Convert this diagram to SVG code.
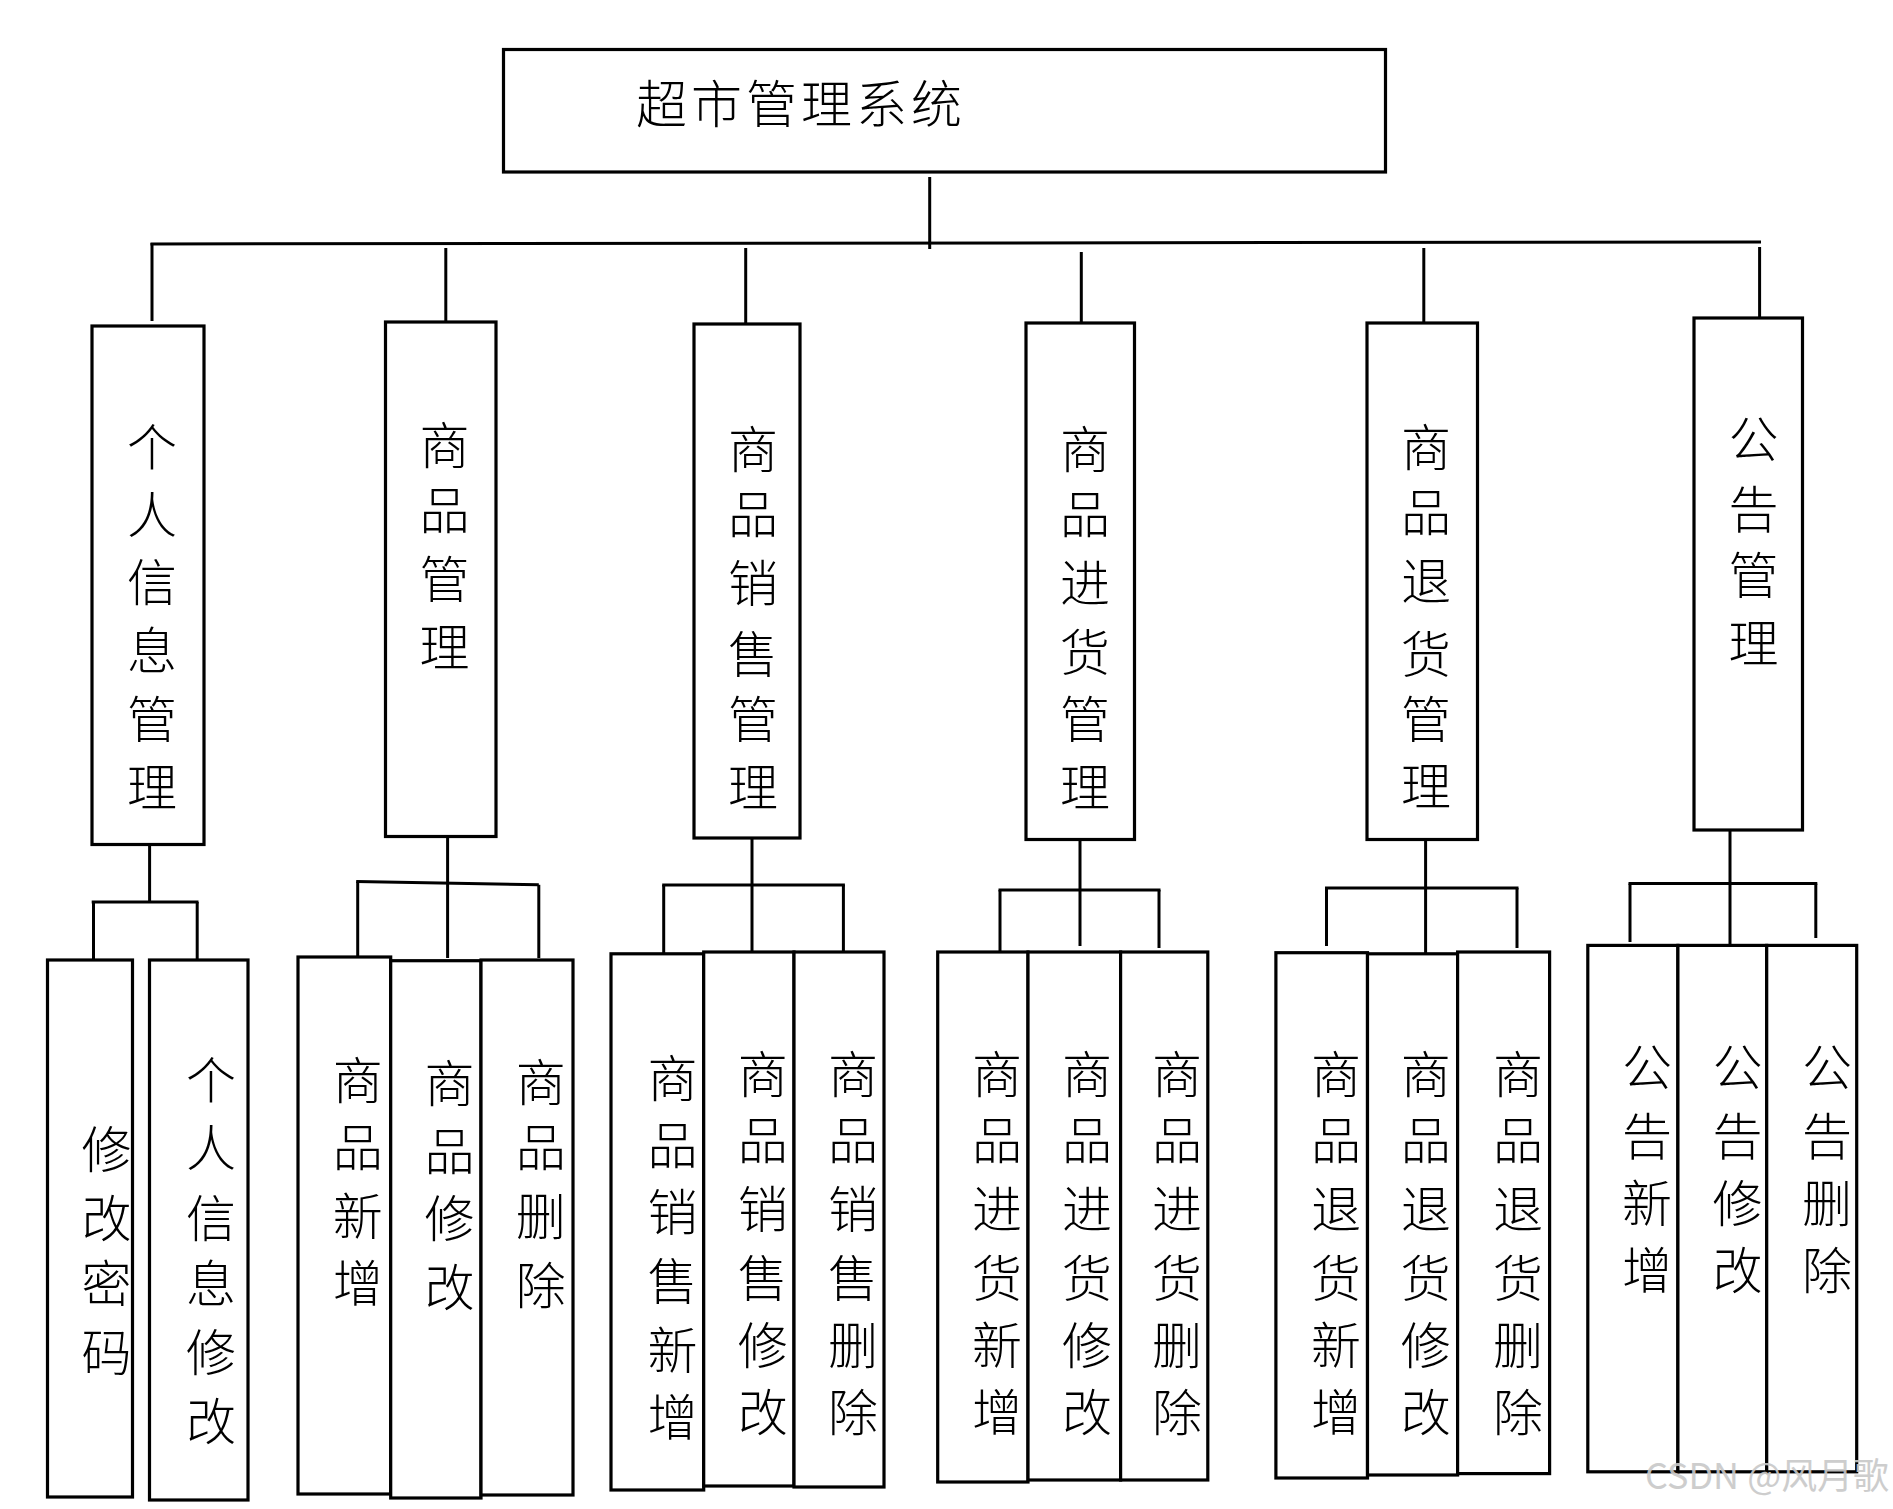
<svg xmlns="http://www.w3.org/2000/svg" width="1893" height="1509" viewBox="0 0 1893 1509">
<style>
.box{fill:#fff;stroke:#000;stroke-width:3.2}
.t{font-family:"Noto Sans CJK SC","Noto Sans CJK JP",sans-serif;font-size:50px;font-weight:300;fill:#000;text-anchor:middle}
.title{font-family:"Noto Sans CJK SC","Noto Sans CJK JP",sans-serif;font-size:51px;font-weight:300;fill:#000;letter-spacing:4px}
.c{stroke:#000;stroke-width:3;fill:none}
.wm{font-family:"Noto Sans CJK SC","Noto Sans CJK JP",sans-serif;font-size:36px;fill:#c8c8c8;opacity:0.9}
</style>
<rect width="1893" height="1509" fill="#fff"/>
<g id="connectors">
<line class="c" x1="929.7" y1="177" x2="929.7" y2="249"/>
<line class="c" x1="150.5" y1="244" x2="1761" y2="242"/>
<line class="c" x1="152" y1="243" x2="152" y2="321"/>
<line class="c" x1="445.8" y1="248" x2="445.8" y2="322"/>
<line class="c" x1="745.7" y1="248" x2="745.7" y2="324"/>
<line class="c" x1="1081.3" y1="252" x2="1081.3" y2="323"/>
<line class="c" x1="1423.8" y1="248" x2="1423.8" y2="323"/>
<line class="c" x1="1759.6" y1="247" x2="1759.6" y2="318"/>
<line class="c" x1="149.6" y1="845" x2="149.6" y2="902"/>
<line class="c" x1="91.7" y1="902" x2="198.5" y2="902"/>
<line class="c" x1="93.5" y1="902" x2="93.5" y2="959"/>
<line class="c" x1="197.2" y1="902" x2="197.2" y2="964"/>
<line class="c" x1="447.6" y1="837" x2="447.6" y2="958"/>
<line class="c" x1="356.2" y1="881.6" x2="538.8" y2="884.8"/>
<line class="c" x1="357.7" y1="881.6" x2="357.7" y2="956"/>
<line class="c" x1="538.8" y1="884.8" x2="538.8" y2="958"/>
<line class="c" x1="752" y1="838" x2="752" y2="951"/>
<line class="c" x1="662.2" y1="885" x2="844.9" y2="885"/>
<line class="c" x1="663.7" y1="885" x2="663.7" y2="953"/>
<line class="c" x1="843.4" y1="885" x2="843.4" y2="951"/>
<line class="c" x1="1080" y1="840" x2="1080" y2="946"/>
<line class="c" x1="998.5" y1="890" x2="1160.5" y2="890"/>
<line class="c" x1="1000" y1="890" x2="1000" y2="951"/>
<line class="c" x1="1159" y1="890" x2="1159" y2="948"/>
<line class="c" x1="1425.6" y1="840" x2="1425.6" y2="953"/>
<line class="c" x1="1325" y1="888" x2="1518.5" y2="888"/>
<line class="c" x1="1326.5" y1="888" x2="1326.5" y2="946"/>
<line class="c" x1="1517" y1="888" x2="1517" y2="948"/>
<line class="c" x1="1730" y1="830" x2="1730" y2="945"/>
<line class="c" x1="1628.5" y1="883.6" x2="1817.3" y2="883.6"/>
<line class="c" x1="1630" y1="883.6" x2="1630" y2="942"/>
<line class="c" x1="1815.8" y1="883.6" x2="1815.8" y2="938"/>
</g>
<g id="root">
<rect class="box" x="503.5" y="49.5" width="882" height="122.5"/>
<text class="title" x="636" y="123">超市管理系统</text>
</g>
<g id="n1">
<rect class="box" x="92" y="326" width="112" height="518.5"/>
<text class="t"><tspan x="152" y="466">个</tspan><tspan x="152" y="533">人</tspan><tspan x="152" y="601">信</tspan><tspan x="152" y="669">息</tspan><tspan x="152" y="738">管</tspan><tspan x="152" y="806">理</tspan></text>
</g>
<g id="n2">
<rect class="box" x="385.5" y="322" width="110.5" height="514.5"/>
<text class="t"><tspan x="444.6" y="464">商</tspan><tspan x="444.6" y="529">品</tspan><tspan x="444.6" y="598">管</tspan><tspan x="444.6" y="666">理</tspan></text>
</g>
<g id="n3">
<rect class="box" x="694" y="324" width="106" height="514"/>
<text class="t"><tspan x="753" y="468">商</tspan><tspan x="753" y="533">品</tspan><tspan x="753" y="602">销</tspan><tspan x="753" y="673">售</tspan><tspan x="753" y="738">管</tspan><tspan x="753" y="806">理</tspan></text>
</g>
<g id="n4">
<rect class="box" x="1026" y="323" width="108.5" height="516.5"/>
<text class="t"><tspan x="1085" y="468">商</tspan><tspan x="1085" y="533">品</tspan><tspan x="1085" y="602">进</tspan><tspan x="1085" y="671">货</tspan><tspan x="1085" y="738">管</tspan><tspan x="1085" y="806">理</tspan></text>
</g>
<g id="n5">
<rect class="box" x="1367" y="323" width="110.5" height="516.5"/>
<text class="t"><tspan x="1426" y="466">商</tspan><tspan x="1426" y="531">品</tspan><tspan x="1426" y="600">退</tspan><tspan x="1426" y="673">货</tspan><tspan x="1426" y="738">管</tspan><tspan x="1426" y="805">理</tspan></text>
</g>
<g id="n6">
<rect class="box" x="1694" y="318" width="108.5" height="512"/>
<text class="t"><tspan x="1753.5" y="458">公</tspan><tspan x="1753.5" y="528">告</tspan><tspan x="1753.5" y="594">管</tspan><tspan x="1753.5" y="662">理</tspan></text>
</g>
<g id="n1a">
<rect class="box" x="47.5" y="960" width="85" height="537"/>
<text class="t"><tspan x="106.5" y="1168">修</tspan><tspan x="106.5" y="1237">改</tspan><tspan x="106.5" y="1302">密</tspan><tspan x="106.5" y="1371">码</tspan></text>
</g>
<g id="n1b">
<rect class="box" x="149.5" y="960" width="98.5" height="540"/>
<text class="t"><tspan x="211" y="1099">个</tspan><tspan x="211" y="1166">人</tspan><tspan x="211" y="1237">信</tspan><tspan x="211" y="1302">息</tspan><tspan x="211" y="1371">修</tspan><tspan x="211" y="1440">改</tspan></text>
</g>
<g id="n2a">
<rect class="box" x="298" y="957" width="92.7" height="537"/>
<text class="t"><tspan x="357.8" y="1099">商</tspan><tspan x="357.8" y="1166">品</tspan><tspan x="357.8" y="1235">新</tspan><tspan x="357.8" y="1302">增</tspan></text>
</g>
<g id="n2b">
<rect class="box" x="390.7" y="960.7" width="90.3" height="537.3"/>
<text class="t"><tspan x="449.4" y="1102">商</tspan><tspan x="449.4" y="1169.5">品</tspan><tspan x="449.4" y="1237">修</tspan><tspan x="449.4" y="1306">改</tspan></text>
</g>
<g id="n2c">
<rect class="box" x="481" y="960" width="92" height="535"/>
<text class="t"><tspan x="540.7" y="1100.6">商</tspan><tspan x="540.7" y="1166">品</tspan><tspan x="540.7" y="1235">删</tspan><tspan x="540.7" y="1304">除</tspan></text>
</g>
<g id="n3a">
<rect class="box" x="611" y="953.8" width="92.7" height="536.2"/>
<text class="t"><tspan x="672.4" y="1097">商</tspan><tspan x="672.4" y="1164">品</tspan><tspan x="672.4" y="1231">销</tspan><tspan x="672.4" y="1300">售</tspan><tspan x="672.4" y="1369">新</tspan><tspan x="672.4" y="1436">增</tspan></text>
</g>
<g id="n3b">
<rect class="box" x="703.7" y="952" width="90.3" height="534"/>
<text class="t"><tspan x="762.8" y="1093">商</tspan><tspan x="762.8" y="1159">品</tspan><tspan x="762.8" y="1227.6">销</tspan><tspan x="762.8" y="1296.6">售</tspan><tspan x="762.8" y="1363.7">修</tspan><tspan x="762.8" y="1431">改</tspan></text>
</g>
<g id="n3c">
<rect class="box" x="794" y="952" width="90" height="535"/>
<text class="t"><tspan x="853" y="1093">商</tspan><tspan x="853" y="1159">品</tspan><tspan x="853" y="1227.6">销</tspan><tspan x="853" y="1296.6">售</tspan><tspan x="853" y="1363.7">删</tspan><tspan x="853" y="1431">除</tspan></text>
</g>
<g id="n4a">
<rect class="box" x="937.7" y="952" width="90.3" height="530"/>
<text class="t"><tspan x="997" y="1093">商</tspan><tspan x="997" y="1159">品</tspan><tspan x="997" y="1227.6">进</tspan><tspan x="997" y="1296.6">货</tspan><tspan x="997" y="1363.7">新</tspan><tspan x="997" y="1431">增</tspan></text>
</g>
<g id="n4b">
<rect class="box" x="1028" y="952" width="92.6" height="528"/>
<text class="t"><tspan x="1087" y="1093">商</tspan><tspan x="1087" y="1159">品</tspan><tspan x="1087" y="1227.6">进</tspan><tspan x="1087" y="1296.6">货</tspan><tspan x="1087" y="1363.7">修</tspan><tspan x="1087" y="1431">改</tspan></text>
</g>
<g id="n4c">
<rect class="box" x="1120.6" y="952" width="87.2" height="528"/>
<text class="t"><tspan x="1177" y="1093">商</tspan><tspan x="1177" y="1159">品</tspan><tspan x="1177" y="1227.6">进</tspan><tspan x="1177" y="1296.6">货</tspan><tspan x="1177" y="1363.7">删</tspan><tspan x="1177" y="1431">除</tspan></text>
</g>
<g id="n5a">
<rect class="box" x="1275.9" y="952.7" width="91.6" height="525.3"/>
<text class="t"><tspan x="1336" y="1093">商</tspan><tspan x="1336" y="1159">品</tspan><tspan x="1336" y="1227.6">退</tspan><tspan x="1336" y="1296.6">货</tspan><tspan x="1336" y="1363.7">新</tspan><tspan x="1336" y="1431">增</tspan></text>
</g>
<g id="n5b">
<rect class="box" x="1367.5" y="953.8" width="90.1" height="521.2"/>
<text class="t"><tspan x="1425.8" y="1093">商</tspan><tspan x="1425.8" y="1159">品</tspan><tspan x="1425.8" y="1227.6">退</tspan><tspan x="1425.8" y="1296.6">货</tspan><tspan x="1425.8" y="1363.7">修</tspan><tspan x="1425.8" y="1431">改</tspan></text>
</g>
<g id="n5c">
<rect class="box" x="1457.6" y="952" width="92" height="521.6"/>
<text class="t"><tspan x="1518" y="1093">商</tspan><tspan x="1518" y="1159">品</tspan><tspan x="1518" y="1227.6">退</tspan><tspan x="1518" y="1296.6">货</tspan><tspan x="1518" y="1363.7">删</tspan><tspan x="1518" y="1431">除</tspan></text>
</g>
<g id="n6a">
<rect class="box" x="1587.8" y="945.4" width="90.1" height="526.4"/>
<text class="t"><tspan x="1647" y="1086">公</tspan><tspan x="1647" y="1155">告</tspan><tspan x="1647" y="1222">新</tspan><tspan x="1647" y="1289">增</tspan></text>
</g>
<g id="n6b">
<rect class="box" x="1677.9" y="945.4" width="88.8" height="526.4"/>
<text class="t"><tspan x="1737.4" y="1086">公</tspan><tspan x="1737.4" y="1155">告</tspan><tspan x="1737.4" y="1222">修</tspan><tspan x="1737.4" y="1289">改</tspan></text>
</g>
<g id="n6c">
<rect class="box" x="1766.7" y="945.4" width="90" height="526.4"/>
<text class="t"><tspan x="1827" y="1086">公</tspan><tspan x="1827" y="1155">告</tspan><tspan x="1827" y="1222">删</tspan><tspan x="1827" y="1289">除</tspan></text>
</g>
<text class="wm" x="1645" y="1489" textLength="244" lengthAdjust="spacingAndGlyphs">CSDN @风月歌</text>
</svg>
